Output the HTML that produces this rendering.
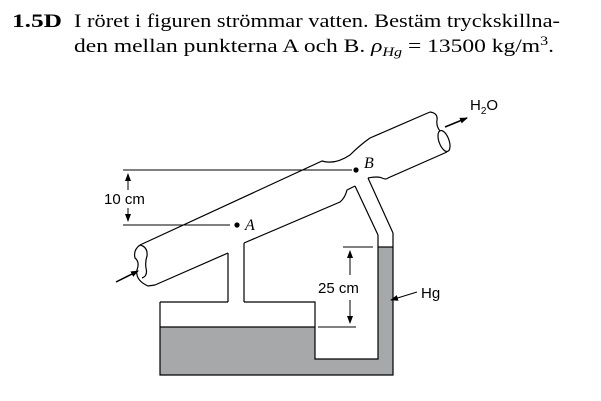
<!DOCTYPE html>
<html><head><meta charset="utf-8"><style>
html,body{margin:0;padding:0;background:#fff;width:601px;height:401px;overflow:hidden}
svg{display:block}
.t{font-family:"Liberation Serif",serif;font-size:19px;fill:#000}
.s{font-family:"Liberation Sans",sans-serif;font-size:15px;fill:#000}
</style></head><body>
<svg width="601" height="401" viewBox="0 0 601 401" xmlns="http://www.w3.org/2000/svg">
<defs><marker id="ah" markerWidth="8" markerHeight="8" refX="7" refY="4" orient="auto" markerUnits="userSpaceOnUse"><path d="M0,1 L8,4 L0,7 Z" fill="#000"/></marker></defs>
<text class="t" x="12" y="27" font-weight="bold" font-size="20" textLength="50" lengthAdjust="spacingAndGlyphs">1.5D</text>
<text class="t" x="74" y="27" textLength="486" lengthAdjust="spacingAndGlyphs">I röret i figuren strömmar vatten. Bestäm tryckskillna-</text>
<text class="t" x="74" y="52" textLength="480" lengthAdjust="spacingAndGlyphs">den mellan punkterna A och B. <tspan font-style="italic">ρ</tspan><tspan font-style="italic" font-size="13" dy="4">Hg</tspan><tspan dy="-4"> = 13500 kg/m</tspan><tspan font-size="13" dy="-7">3</tspan><tspan dy="7">.</tspan></text>

<g fill="none" stroke="#000" stroke-width="1.2">
<path d="M160,327 H315 V359 H378 V247 H393 V375 H160 Z" fill="#a7a8aa" stroke="none"/>
<path d="M160,302 H228 M244,302 H315 V359 H378 V235 M393,233 V375 H160 V302"/>
<path d="M160,327 H315"/>
<path d="M378,247 H393"/>
<path d="M228,302 V253 M244,302 V243"/>
<path d="M140,245 L322,161 Q335,165 350,155 Q360,145 370,138 L430,112"/>
<path d="M155,285 L228,253 M244,243 L340,202 Q345,198 347,190 L355,186"/>
<path d="M355,186 L378,235 M368,178 L393,233"/>
<path d="M368,178 Q378,176 382,178 Q386,180 388,178 L447,152"/>
<path d="M140,245 Q133,250 135,258 Q140,262 137,270 Q135,280 148,286 L155,285"/>
<path d="M140,245 Q148,247 147,256 Q145,262 146,268 Q148,276 142,278"/>
<path d="M430,112 Q438,113 437,120 Q436,126 440,131"/>
<ellipse cx="444" cy="141" rx="5" ry="11" transform="rotate(-20 444 141)"/>
<path d="M123,170 H352 M123,225 H230" stroke-width="1"/>
<path d="M128,190 V174" marker-end="url(#ah)" stroke-width="1"/>
<path d="M128,208 V221" marker-end="url(#ah)" stroke-width="1"/>
<path d="M343,247 H373 M318,327 H356" stroke-width="1"/>
<path d="M350,275 V251" marker-end="url(#ah)" stroke-width="1"/>
<path d="M350,300 V323" marker-end="url(#ah)" stroke-width="1"/>
<path d="M116,282 L138,271" stroke-width="1.5" marker-end="url(#ah)"/>
<path d="M445,127 L467,118" stroke-width="1.5" marker-end="url(#ah)"/>
<path d="M417,292 L391,300" stroke-width="1" marker-end="url(#ah)"/>
</g>
<circle cx="356" cy="170" r="2.6" fill="#000"/>
<circle cx="237" cy="225" r="2.6" fill="#000"/>
<text x="364" y="168" font-family="Liberation Serif,serif" font-style="italic" font-size="16">B</text>
<text x="245" y="230" font-family="Liberation Serif,serif" font-style="italic" font-size="16">A</text>
<text class="s" x="104" y="204" font-size="16">10 cm</text>
<text class="s" x="318" y="293" font-size="16">25 cm</text>
<text class="s" x="421" y="298" font-size="16">Hg</text>
<text class="s" x="470" y="110" font-size="16">H<tspan font-size="10" dy="4">2</tspan><tspan dy="-4">O</tspan></text>
</svg>
</body></html>
